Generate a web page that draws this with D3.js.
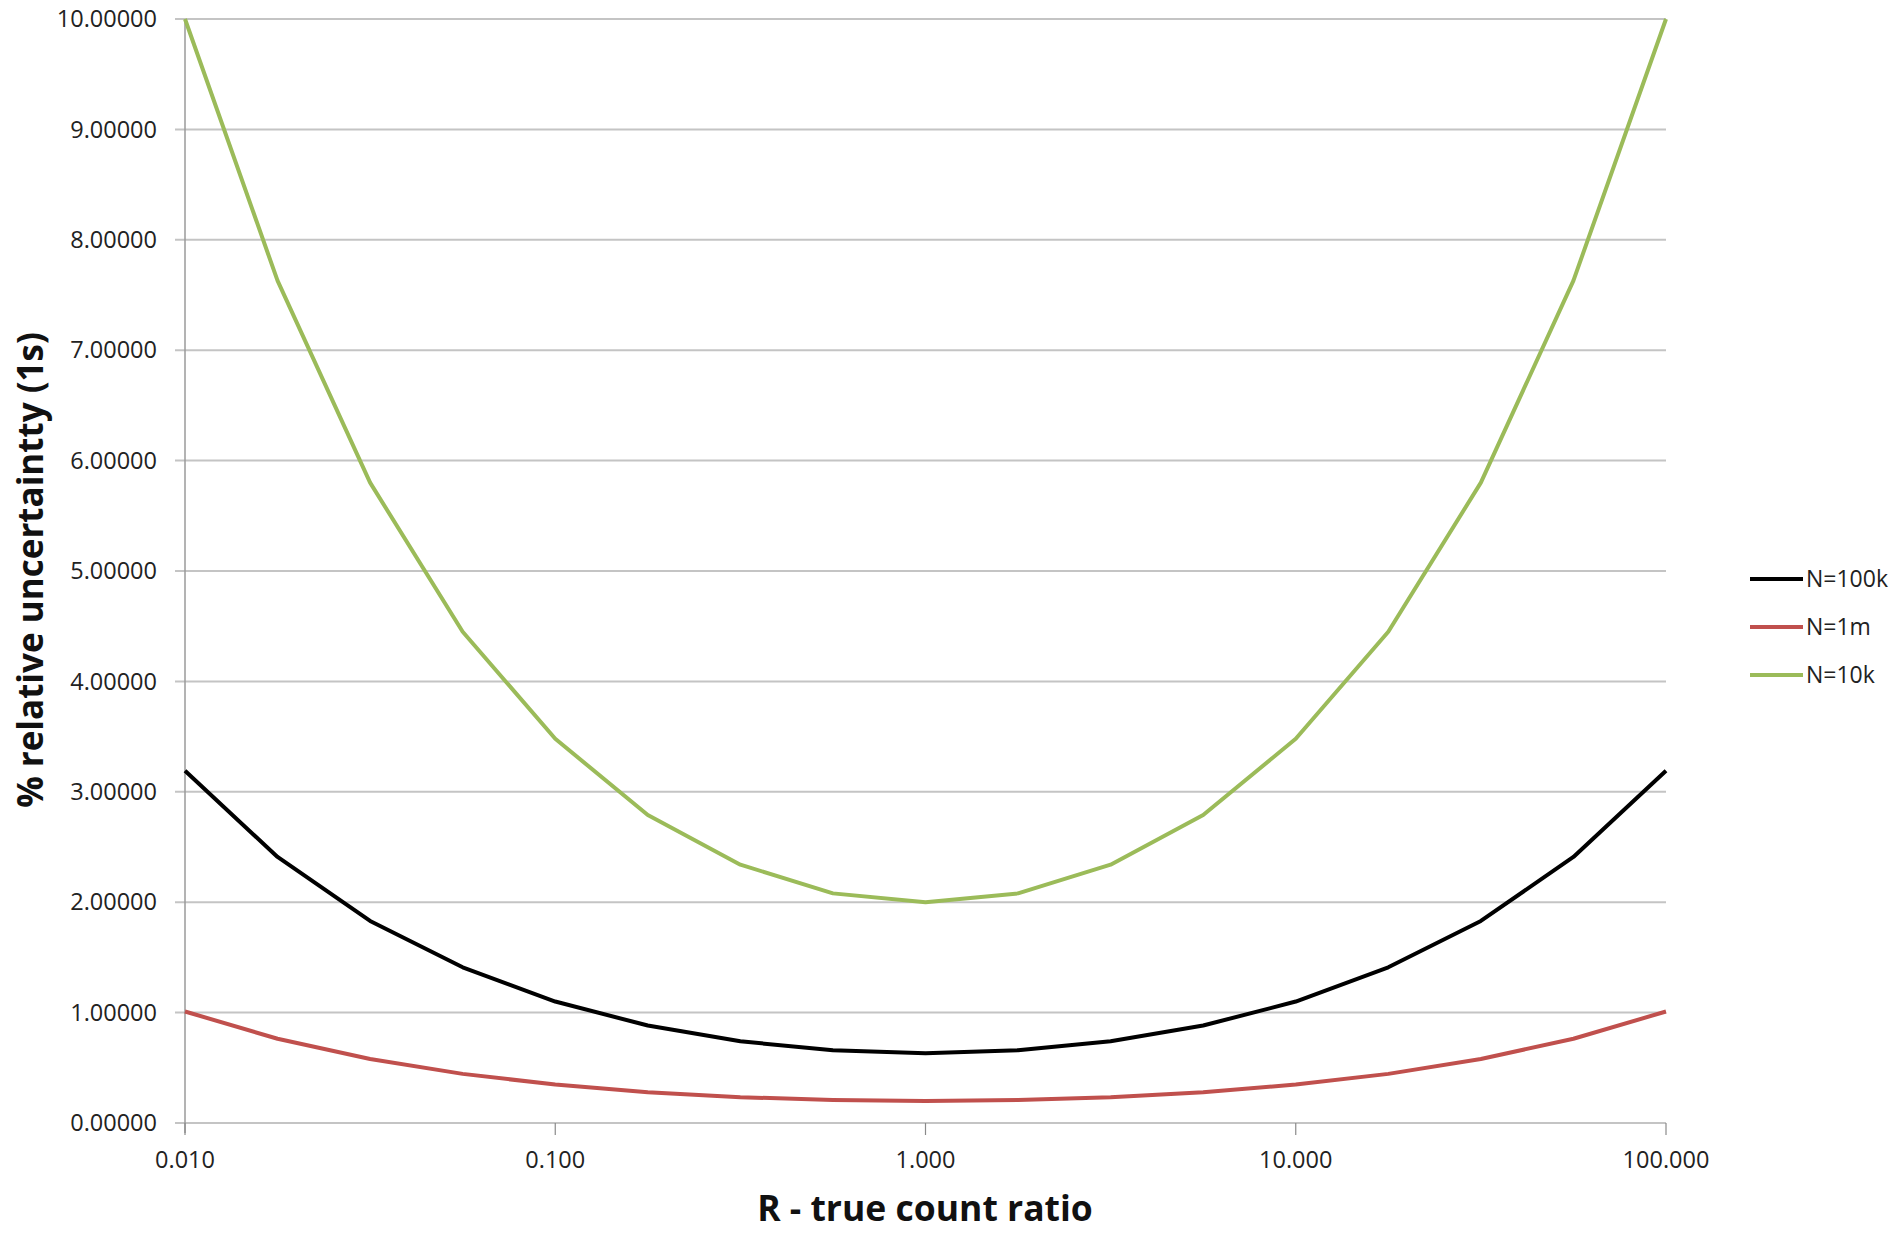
<!DOCTYPE html>
<html><head><meta charset="utf-8">
<script src="https://cdn.jsdelivr.net/npm/d3@7"></script>
<style>
html,body{margin:0;padding:0;background:#fff;}
svg{display:block;}
text{font-family:"Open Sans","Liberation Sans",sans-serif;fill:#222;}
</style></head>
<body>
<svg id="chart" width="1893" height="1240"></svg>
<script>
// Data (R = true count ratio, log-spaced)
const ratios = [0.01, 0.01778, 0.03162, 0.05623, 0.1, 0.1778, 0.3162, 0.5623, 1, 1.778, 3.162, 5.623, 10, 17.78, 31.62, 56.23, 100];
const n100k = [3.19, 2.41, 1.83, 1.41, 1.10, 0.883, 0.740, 0.659, 0.632, 0.659, 0.740, 0.883, 1.10, 1.41, 1.83, 2.41, 3.19];
const n1m   = [1.01, 0.763, 0.580, 0.445, 0.348, 0.279, 0.234, 0.208, 0.200, 0.208, 0.234, 0.279, 0.348, 0.445, 0.580, 0.763, 1.01];
const n10k  = [10.0, 7.63, 5.80, 4.45, 3.48, 2.79, 2.34, 2.08, 2.00, 2.08, 2.34, 2.79, 3.48, 4.45, 5.80, 7.63, 10.0];
const seriesNames = ["N=100k", "N=1m", "N=10k"];
const seriesColors = ["#000000", "#c0504d", "#9bbb59"];
const xTicks = [0.01, 0.1, 1, 10, 100];
const xTickLabels = ["0.010", "0.100", "1.000", "10.000", "100.000"];
const yTicks = [0,1,2,3,4,5,6,7,8,9,10];
const xTitle = "R - true count ratio";
const yTitle = "% relative uncertaintty (1s)";

const seriesData = [n100k, n1m, n10k];

const svg = d3.select("#chart");
const L = 185, R = 1666, T = 19, B = 1123;
const x = d3.scaleLog().domain([0.01, 100]).range([L, R]);
const y = d3.scaleLinear().domain([0, 10]).range([B, T]);

// gridlines
svg.append("g").selectAll("line").data(yTicks).join("line")
  .attr("x1", L - 10).attr("x2", R)
  .attr("y1", d => y(d)).attr("y2", d => y(d))
  .attr("stroke", "#c4c4c4").attr("stroke-width", 2);

// y axis line
svg.append("line").attr("x1", L).attr("x2", L).attr("y1", T).attr("y2", B + 10)
  .attr("stroke", "#9a9a9a").attr("stroke-width", 1.5);

// x axis ticks
svg.append("g").selectAll("line").data(xTicks).join("line")
  .attr("x1", d => x(d)).attr("x2", d => x(d))
  .attr("y1", B).attr("y2", B + 12)
  .attr("stroke", "#8a8a8a").attr("stroke-width", 1.2);

// y tick labels
svg.append("g").selectAll("text").data(yTicks).join("text")
  .attr("x", 157).attr("y", d => y(d)).attr("dy", "0.35em")
  .attr("text-anchor", "end").attr("font-size", 23.5)
  .text(d => d.toFixed(5));

// x tick labels
svg.append("g").selectAll("text").data(xTicks).join("text")
  .attr("x", d => x(d)).attr("y", 1168)
  .attr("text-anchor", "middle").attr("font-size", 23.5)
  .text((d, i) => xTickLabels[i]);

// lines
const line = d3.line().x((d, i) => x(ratios[i])).y(d => y(d));
svg.append("g").selectAll("path").data(seriesData).join("path")
  .attr("d", d => line(d))
  .attr("fill", "none")
  .attr("stroke", (d, i) => seriesColors[i])
  .attr("stroke-width", 4)
  .attr("stroke-linejoin", "round");

// axis titles
svg.append("text").attr("x", 925).attr("y", 1221)
  .attr("text-anchor", "middle").attr("font-size", 35.5).attr("font-weight", "bold")
  .style("fill", "#111").text(xTitle);
svg.append("text").attr("transform", "translate(43,570) rotate(-90)")
  .attr("text-anchor", "middle").attr("font-size", 35).attr("font-weight", "bold")
  .style("fill", "#111").text(yTitle);

// legend
const legY = [579, 627, 675];
const lg = svg.append("g");
lg.selectAll("line").data(seriesNames).join("line")
  .attr("x1", 1750).attr("x2", 1803)
  .attr("y1", (d, i) => legY[i]).attr("y2", (d, i) => legY[i])
  .attr("stroke", (d, i) => seriesColors[i]).attr("stroke-width", 4);
lg.selectAll("text").data(seriesNames).join("text")
  .attr("x", 1806).attr("y", (d, i) => legY[i]).attr("dy", "0.35em")
  .attr("font-size", 23).text(d => d);
</script>
</body></html>
